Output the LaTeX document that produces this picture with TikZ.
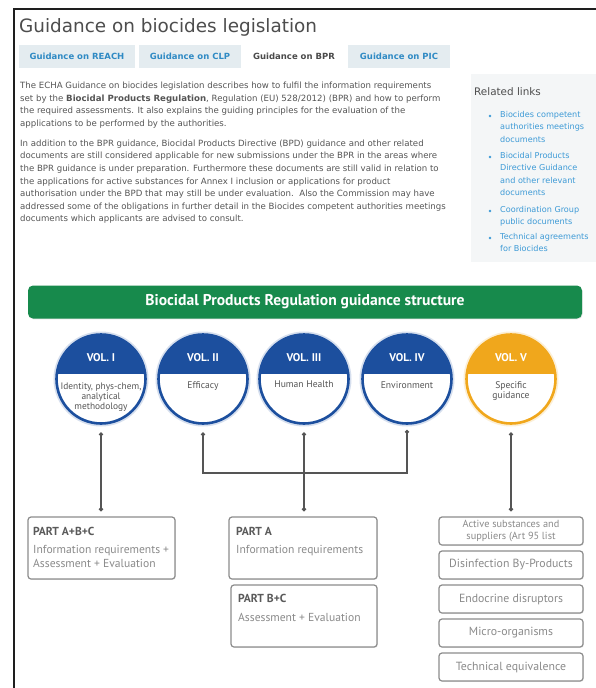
\documentclass[tikz,border=0pt]{standalone}
\usepackage{fontspec}
\setmainfont{DejaVu Sans}
\newfontfamily\diagfont{PT Sans}
\usetikzlibrary{calc,arrows.meta,shadows}

\definecolor{framecol}{HTML}{1E1E1E}
\definecolor{titlecol}{HTML}{4D4D4D}
\definecolor{tabbg}{HTML}{E4ECF0}
\definecolor{tabblue}{HTML}{2F8AC4}
\definecolor{tabdark}{HTML}{4A4A4A}
\definecolor{webgray}{HTML}{555555}
\definecolor{linkbg}{HTML}{F4F6F7}
\definecolor{linkblue}{HTML}{3D9AD6}
\definecolor{barcol}{HTML}{178A4C}
\definecolor{volblue}{HTML}{1C4F9E}
\definecolor{volorange}{HTML}{F0A71C}
\definecolor{conncol}{HTML}{555555}
\definecolor{boxborder}{HTML}{8C8C8C}
\definecolor{parthead}{HTML}{5A5A5A}
\definecolor{parttext}{HTML}{8A8A8A}

\tikzset{
  webtext/.style={font=\fontsize{8.6}{12.6}\selectfont, text=webgray, align=left, inner sep=0pt},
  tabbox/.style={font=\fontsize{8.5}{10}\selectfont\bfseries, text=tabblue, fill=tabbg,
    minimum height=23pt, inner sep=0pt},
  linkitem/.style={font=\fontsize{8.1}{12.4}\selectfont, text=linkblue, align=left, inner sep=0pt, anchor=north west},
  bulletdot/.style={fill=linkblue, circle, inner sep=0pt, minimum size=2.6pt},
  volcircle/.style={circle, draw=#1, line width=2.6pt, minimum size=89pt, inner sep=0pt, fill=white,
    preaction={draw=#1!18, line width=6pt},
    path picture={\fill[#1] ([yshift=5pt]path picture bounding box.west) rectangle (path picture bounding box.north east);}},
  voltitle/.style={font=\diagfont\bfseries\fontsize{11.2}{12}\selectfont, text=white, inner sep=0pt},
  vollabel/.style={font=\diagfont\fontsize{9.6}{10.5}\selectfont, text=webgray, align=center, inner sep=0pt},
  conn/.style={draw=conncol, line width=1.1pt, {Circle[length=4.2pt,width=4.2pt]}-{Circle[length=4.2pt,width=4.2pt]},
    shorten <=7.5pt, shorten >=5pt},
  partbox/.style={draw=boxborder, line width=1.2pt, rounded corners=3pt, fill=white,
    drop shadow={opacity=0.2, shadow xshift=0.8pt, shadow yshift=-0.8pt}, inner sep=0pt},
  parthd/.style={font=\diagfont\bfseries\fontsize{11.6}{12}\selectfont, text=parthead, anchor=base west, inner sep=0pt},
  parttx/.style={font=\diagfont\fontsize{11.6}{12}\selectfont, text=parttext, anchor=base west, inner sep=0pt},
  sidetx/.style={font=\diagfont\fontsize{11.8}{12}\selectfont, text=parttext, align=center, inner sep=0pt},
}

\begin{document}
\begin{tikzpicture}[x=1pt, y=-1pt]
\useasboundingbox (0,0) rectangle (596,688);
\fill[white] (0,0) rectangle (596,688);

% page frame
\draw[framecol, line width=2.8pt] (14,688) -- (14,9) -- (596,9);

% heading and tabs
\node[font=\fontsize{18.4}{20}\selectfont, text=titlecol, anchor=base west, inner sep=0pt] (title)
  at (19,32) {Guidance on biocides legislation};
\node[tabbox, minimum width=116pt] (tREACH) at (77,56) {Guidance on REACH};
\node[tabbox, minimum width=102pt] (tCLP) at (190,56) {Guidance on CLP};
\node[tabbox, minimum width=101pt, fill=white, text=tabdark] (tBPR) at (294,56) {Guidance on BPR};
\node[tabbox, minimum width=102pt] (tPIC) at (399,56) {Guidance on PIC};

% introduction text
\node[webtext, anchor=north west] (para1) at (20,82) {%
The ECHA Guidance on biocides legislation describes how to fulfil the information requirements\\
set by the \textbf{Biocidal Products Regulation}, Regulation (EU) 528/2012) (BPR) and how to perform\\
the required assessments. It also explains the guiding principles for the evaluation of the\\
applications to be performed by the authorities.};
\node[webtext, anchor=north west] (para2) at (20,139.5) {%
In addition to the BPR guidance, Biocidal Products Directive (BPD) guidance and other related\\
documents are still considered applicable for new submissions under the BPR in the areas where\\
the BPR guidance is under preparation. Furthermore these documents are still valid in relation to\\
the applications for active substances for Annex I inclusion or applications for product\\
authorisation under the BPD that may still be under evaluation.\ \ Also the Commission may have\\
addressed some of the obligations in further detail in the Biocides competent authorities meetings\\
documents which applicants are advised to consult.};

% related links panel
\node[fill=linkbg, minimum width=125pt, minimum height=188pt, anchor=north west, inner sep=0pt] (related) at (471,74) {};
\node[font=\fontsize{10.4}{11}\selectfont, text=titlecol, anchor=base west, inner sep=0pt] (relhead) at (474,95) {Related links};
\node[linkitem] (l1) at (500,111) {Biocides competent\\authorities meetings\\documents};
\node[linkitem] (l2) at (500,152) {Biocidal Products\\Directive Guidance\\and other relevant\\documents};
\node[linkitem] (l3) at (500,206) {Coordination Group\\public documents};
\node[linkitem] (l4) at (500,233) {Technical agreements\\for Biocides};
\node[bulletdot] (b1) at (490,116) {};
\node[bulletdot] (b2) at (490,157) {};
\node[bulletdot] (b3) at (490,211) {};
\node[bulletdot] (b4) at (490,238) {};

% guidance structure banner
\node[fill=barcol, rounded corners=5pt, minimum width=554pt, minimum height=33pt, inner sep=0pt,
  drop shadow={opacity=0.2, shadow xshift=0.6pt, shadow yshift=-0.8pt},
  font=\diagfont\bfseries\fontsize{15.6}{16}\selectfont, text=white] (banner) at (305,302)
  {Biocidal Products Regulation guidance structure};

% volumes
\node[volcircle=volblue] (v1) at (101,379) {};
\node[volcircle=volblue] (v2) at (203,379) {};
\node[volcircle=volblue] (v3) at (304,379) {};
\node[volcircle=volblue] (v4) at (407,379) {};
\node[volcircle=volorange] (v5) at (511,379) {};

\node[voltitle] (v1t) at ($(v1)+(0,-21)$) {VOL. I};
\node[voltitle] (v2t) at ($(v2)+(0,-21)$) {VOL. II};
\node[voltitle] (v3t) at ($(v3)+(0,-21)$) {VOL. III};
\node[voltitle] (v4t) at ($(v4)+(0,-21)$) {VOL. IV};
\node[voltitle] (v5t) at ($(v5)+(0,-21)$) {VOL. V};

\node[vollabel, font=\diagfont\fontsize{9.4}{10}\selectfont] (v1l) at ($(v1)+(0,18)$) {Identity, phys-chem,\\analytical\\methodology};
\node[vollabel] (v2l) at ($(v2)+(0,7)$) {Efficacy};
\node[vollabel] (v3l) at ($(v3)+(0,5)$) {Human Health};
\node[vollabel] (v4l) at ($(v4)+(0,6)$) {Environment};
\node[vollabel] (v5l) at ($(v5)+(0,12)$) {Specific\\guidance};

% parts
\node[partbox, minimum width=147pt, minimum height=62pt] (pabc) at (101.5,548) {};
\node[partbox, minimum width=148pt, minimum height=62pt] (pa) at (303,548) {};
\node[partbox, minimum width=146pt, minimum height=62pt] (pbc) at (304,616) {};

\node[parthd] (pabch) at (33,535) {PART A+B+C};
\node[parttx] (pabct1) at (33,553) {Information requirements +};
\node[parttx] (pabct2) at (33,567) {Assessment + Evaluation};
\node[parthd] (pah) at (236,535) {PART A};
\node[parttx] (pat) at (236,553) {Information requirements};
\node[parthd] (pbch) at (238,602) {PART B+C};
\node[parttx] (pbct) at (238,621) {Assessment + Evaluation};

% specific guidance topics
\node[partbox, minimum width=144pt, minimum height=28pt] (r1) at (511,531) {};
\node[partbox, minimum width=144pt, minimum height=28pt] (r2) at (511,565) {};
\node[partbox, minimum width=144pt, minimum height=28pt] (r3) at (511,599) {};
\node[partbox, minimum width=144pt, minimum height=28pt] (r4) at (511,633) {};
\node[partbox, minimum width=144pt, minimum height=28pt] (r5) at (511,667) {};

\node[sidetx, font=\diagfont\fontsize{10.3}{11.8}\selectfont] (r1t) at (r1) {Active substances and\\suppliers (Art 95 list};
\node[sidetx] (r2t) at (r2) {Disinfection By-Products};
\node[sidetx] (r3t) at (r3) {Endocrine disruptors};
\node[sidetx] (r4t) at (r4) {Micro-organisms};
\node[sidetx] (r5t) at (r5) {Technical equivalence};

% connectors
\coordinate (bus) at (0,473);
\draw[conn] (v1.south) -- (v1.south |- pabc.north);
\draw[conn] (v2.south) -- (v2.south |- bus) -| (v4.south);
\draw[conn] (v3.south) -- (v3.south |- pa.north);
\draw[conn] (v5.south) -- (v5.south |- r1.north);
\end{tikzpicture}
\end{document}
